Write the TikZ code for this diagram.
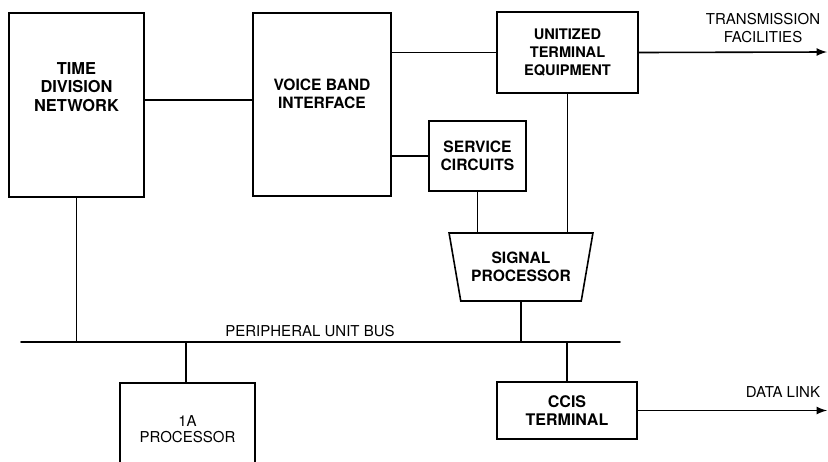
\documentclass[tikz,border=0pt]{standalone}
\usepackage{fontspec}
\setmainfont{TeX Gyre Heros}
\usetikzlibrary{arrows,calc,shapes.geometric}
\usepackage{tkz-euclide}

\tikzset{unit/.style={draw,line width=0.8pt,align=center,inner sep=0pt,
    font=\fontsize{7.5}{9}\selectfont},
  bold/.style={font=\fontsize{7.8}{9}\selectfont\bfseries},
  lbl/.style={align=center,inner sep=0pt,font=\fontsize{7.5}{9}\selectfont},
  link/.style={line width=0.8pt}}

\begin{document}
\begin{tikzpicture}[x=0.5pt,y=-0.5pt]
\useasboundingbox (0,0) rectangle (828,461);
\clip (0,0) rectangle (828,461);
\tkzDefPoints{21/342/L,620/342/R,827/52/T,827/413/D} % bus ends and the two outgoing lines.

\node[unit,minimum width=67.5pt,minimum height=92pt,font=\fontsize{8.2}{9.2}\selectfont\bfseries] (tdn) at (76.5,105) {TIME\\DIVISION\\NETWORK\\[9pt]};
\node[unit,bold,minimum width=69pt,minimum height=91.5pt] (vbi) at (322,104.5) {VOICE BAND\\INTERFACE\\[2pt]};
\node[unit,bold,minimum width=70.5pt,minimum height=40.5pt,font=\fontsize{7.3}{9}\selectfont\bfseries] (ute) at (567.5,52.5) {UNITIZED\\TERMINAL\\EQUIPMENT};
\node[unit,bold,minimum width=48.5pt,minimum height=35pt] (svc) at (477.5,156) {SERVICE\\CIRCUITS};
\node[unit,bold,trapezium,trapezium angle=72,shape border rotate=180,trapezium stretches=true,
  minimum width=72pt,minimum height=34pt] (sp) at (521,267) {SIGNAL\\PROCESSOR};
\node[unit,minimum width=67.5pt,minimum height=46pt] (proc) at (187.5,429) {1A\\[-1pt]PROCESSOR};
\node[unit,bold,minimum width=70pt,minimum height=28.5pt,font=\fontsize{8}{9}\selectfont\bfseries] (ccis) at (567,410.5) {CCIS\\TERMINAL};

\tkzDrawSegment[link](L,R) % the bus itself.
\draw[link] (tdn.east |- 0,100) -- (vbi.west |- 0,100);
\draw[link] (ute.west -| vbi.east) -- (ute.west);
\draw[link] (svc.west -| vbi.east) -- (svc.west);
\draw[link] (svc.south) -- (svc.south |- sp.north);
\draw[link] (ute.south) -- (ute.south |- sp.north);
\draw[link] (sp.south) -- (sp.south |- L);
\draw[link] (tdn.south) -- (tdn.south |- L);
\draw[link] (proc.north -| 186,0) -- (186,0 |- L);
\draw[link] (ccis.north) -- (ccis.north |- L);
\draw[link,-latex] (ute.east) -- (T);
\draw[link,-latex] (ccis.east) -- (ccis.east -| D);

\node[lbl] (tf) at (763,28) {TRANSMISSION\\FACILITIES};
\node[lbl] (dl) at (783,392) {DATA LINK};
\node[lbl] (pub) at (310,331) {PERIPHERAL UNIT BUS};
\end{tikzpicture}
\end{document}
